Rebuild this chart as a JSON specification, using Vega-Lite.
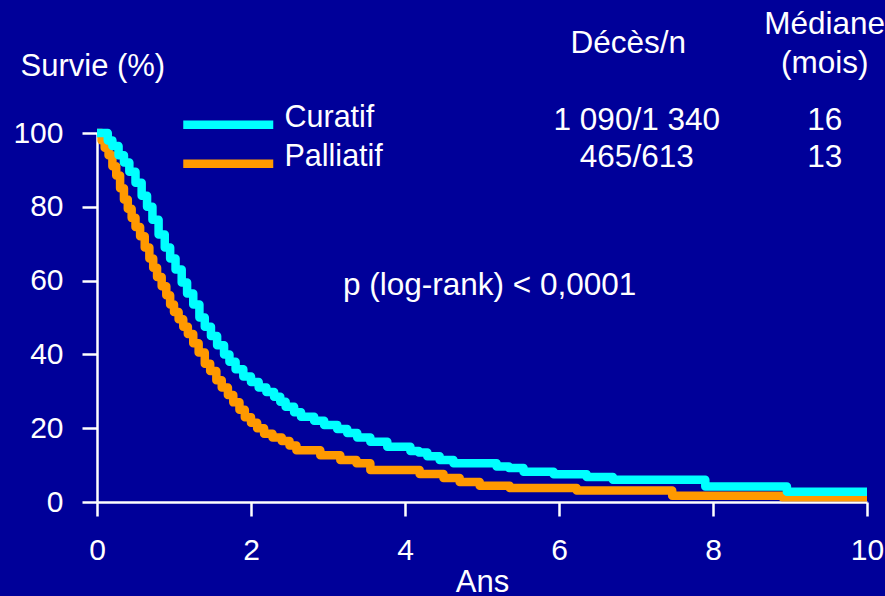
{
  "$schema": "https://vega.github.io/schema/vega-lite/v6.json",
  "width": 770,
  "height": 369,
  "autosize": {"type": "none"},
  "padding": {"left": 97, "top": 133, "right": 18, "bottom": 94},
  "background": "#000099",
  "config": {
    "view": {"stroke": null},
    "font": "Liberation Sans",
    "text": {"fill": "white", "fontSize": 31.5, "align": "center", "baseline": "alphabetic"},
    "axis": {
      "grid": false,
      "labelFlush": false,
      "format": "d",
      "domainColor": "white",
      "domainWidth": 2.5,
      "tickColor": "white",
      "tickWidth": 2.5,
      "labelColor": "white",
      "labelFont": "Liberation Sans",
      "labelFontSize": 30,
      "titleColor": "white",
      "titleFont": "Liberation Sans",
      "titleFontSize": 31,
      "titleFontWeight": "normal"
    },
    "legend": {
      "orient": "none",
      "legendX": 116,
      "legendY": -30,
      "symbolType": "M-4.5,0.65H4.5",
      "symbolSize": 400,
      "symbolStrokeWidth": 8.5,
      "symbolOpacity": 1,
      "labelFontSize": 30.5,
      "labelColor": "white",
      "labelFont": "Liberation Sans",
      "labelOffset": 41,
      "rowPadding": 0,
      "padding": 0
    }
  },
  "datasets": {
    "courbes": [
      {"groupe": "Curatif", "ans": 0, "survie": 100},
      {"groupe": "Curatif", "ans": 0.08, "survie": 100},
      {"groupe": "Curatif", "ans": 0.14, "survie": 98},
      {"groupe": "Curatif", "ans": 0.2, "survie": 96.5},
      {"groupe": "Curatif", "ans": 0.28, "survie": 94},
      {"groupe": "Curatif", "ans": 0.35, "survie": 92},
      {"groupe": "Curatif", "ans": 0.42, "survie": 89.5},
      {"groupe": "Curatif", "ans": 0.5, "survie": 86.5},
      {"groupe": "Curatif", "ans": 0.58, "survie": 83},
      {"groupe": "Curatif", "ans": 0.65, "survie": 80},
      {"groupe": "Curatif", "ans": 0.72, "survie": 76.5},
      {"groupe": "Curatif", "ans": 0.8, "survie": 72.5},
      {"groupe": "Curatif", "ans": 0.88, "survie": 69},
      {"groupe": "Curatif", "ans": 0.95, "survie": 66},
      {"groupe": "Curatif", "ans": 1.02, "survie": 63},
      {"groupe": "Curatif", "ans": 1.1, "survie": 59.5},
      {"groupe": "Curatif", "ans": 1.17, "survie": 56.5},
      {"groupe": "Curatif", "ans": 1.25, "survie": 53.5},
      {"groupe": "Curatif", "ans": 1.33, "survie": 50},
      {"groupe": "Curatif", "ans": 1.4, "survie": 47.5},
      {"groupe": "Curatif", "ans": 1.48, "survie": 45},
      {"groupe": "Curatif", "ans": 1.56, "survie": 42.5},
      {"groupe": "Curatif", "ans": 1.65, "survie": 40},
      {"groupe": "Curatif", "ans": 1.72, "survie": 38},
      {"groupe": "Curatif", "ans": 1.8, "survie": 36},
      {"groupe": "Curatif", "ans": 1.9, "survie": 34},
      {"groupe": "Curatif", "ans": 2.0, "survie": 32.5},
      {"groupe": "Curatif", "ans": 2.1, "survie": 31},
      {"groupe": "Curatif", "ans": 2.2, "survie": 29.8},
      {"groupe": "Curatif", "ans": 2.3, "survie": 28.5},
      {"groupe": "Curatif", "ans": 2.38, "survie": 27.2},
      {"groupe": "Curatif", "ans": 2.45, "survie": 25.8},
      {"groupe": "Curatif", "ans": 2.56, "survie": 24.3},
      {"groupe": "Curatif", "ans": 2.65, "survie": 23.1},
      {"groupe": "Curatif", "ans": 2.82, "survie": 22},
      {"groupe": "Curatif", "ans": 2.95, "survie": 20.9},
      {"groupe": "Curatif", "ans": 3.12, "survie": 19.8},
      {"groupe": "Curatif", "ans": 3.25, "survie": 18.7},
      {"groupe": "Curatif", "ans": 3.38, "survie": 17.5},
      {"groupe": "Curatif", "ans": 3.55, "survie": 16.3},
      {"groupe": "Curatif", "ans": 3.77, "survie": 15},
      {"groupe": "Curatif", "ans": 4.07, "survie": 13.8},
      {"groupe": "Curatif", "ans": 4.18, "survie": 13.4},
      {"groupe": "Curatif", "ans": 4.29, "survie": 12.4},
      {"groupe": "Curatif", "ans": 4.45, "survie": 11.4},
      {"groupe": "Curatif", "ans": 4.63, "survie": 10.5},
      {"groupe": "Curatif", "ans": 5.19, "survie": 9.6},
      {"groupe": "Curatif", "ans": 5.35, "survie": 9.2},
      {"groupe": "Curatif", "ans": 5.54, "survie": 8.2},
      {"groupe": "Curatif", "ans": 5.93, "survie": 7.5},
      {"groupe": "Curatif", "ans": 6.36, "survie": 6.8},
      {"groupe": "Curatif", "ans": 6.7, "survie": 6.0},
      {"groupe": "Curatif", "ans": 7.9, "survie": 4.2},
      {"groupe": "Curatif", "ans": 8.96, "survie": 2.8},
      {"groupe": "Curatif", "ans": 10, "survie": 2.8},
      {"groupe": "Palliatif", "ans": 0, "survie": 100},
      {"groupe": "Palliatif", "ans": 0.04, "survie": 100},
      {"groupe": "Palliatif", "ans": 0.06, "survie": 98},
      {"groupe": "Palliatif", "ans": 0.1, "survie": 96},
      {"groupe": "Palliatif", "ans": 0.15, "survie": 94},
      {"groupe": "Palliatif", "ans": 0.2, "survie": 91},
      {"groupe": "Palliatif", "ans": 0.25, "survie": 88.5},
      {"groupe": "Palliatif", "ans": 0.3, "survie": 85},
      {"groupe": "Palliatif", "ans": 0.35, "survie": 82},
      {"groupe": "Palliatif", "ans": 0.4, "survie": 79.5},
      {"groupe": "Palliatif", "ans": 0.45, "survie": 77},
      {"groupe": "Palliatif", "ans": 0.5, "survie": 74.5},
      {"groupe": "Palliatif", "ans": 0.56, "survie": 72},
      {"groupe": "Palliatif", "ans": 0.62, "survie": 69},
      {"groupe": "Palliatif", "ans": 0.68, "survie": 66},
      {"groupe": "Palliatif", "ans": 0.73, "survie": 63.5},
      {"groupe": "Palliatif", "ans": 0.78, "survie": 61},
      {"groupe": "Palliatif", "ans": 0.84, "survie": 58.5},
      {"groupe": "Palliatif", "ans": 0.9, "survie": 56},
      {"groupe": "Palliatif", "ans": 0.95, "survie": 53.5},
      {"groupe": "Palliatif", "ans": 1.0, "survie": 51.5},
      {"groupe": "Palliatif", "ans": 1.06, "survie": 49.5},
      {"groupe": "Palliatif", "ans": 1.12, "survie": 47.5},
      {"groupe": "Palliatif", "ans": 1.18, "survie": 45.5},
      {"groupe": "Palliatif", "ans": 1.25, "survie": 43},
      {"groupe": "Palliatif", "ans": 1.32, "survie": 40.5},
      {"groupe": "Palliatif", "ans": 1.4, "survie": 37.5},
      {"groupe": "Palliatif", "ans": 1.47, "survie": 35.5},
      {"groupe": "Palliatif", "ans": 1.55, "survie": 33},
      {"groupe": "Palliatif", "ans": 1.62, "survie": 31},
      {"groupe": "Palliatif", "ans": 1.7, "survie": 29},
      {"groupe": "Palliatif", "ans": 1.77, "survie": 27},
      {"groupe": "Palliatif", "ans": 1.85, "survie": 25},
      {"groupe": "Palliatif", "ans": 1.92, "survie": 23},
      {"groupe": "Palliatif", "ans": 2.0, "survie": 21.5},
      {"groupe": "Palliatif", "ans": 2.08, "survie": 20},
      {"groupe": "Palliatif", "ans": 2.17, "survie": 18.5},
      {"groupe": "Palliatif", "ans": 2.28, "survie": 17.5},
      {"groupe": "Palliatif", "ans": 2.4, "survie": 16.5},
      {"groupe": "Palliatif", "ans": 2.5, "survie": 15.3},
      {"groupe": "Palliatif", "ans": 2.59, "survie": 14},
      {"groupe": "Palliatif", "ans": 2.9, "survie": 12.7},
      {"groupe": "Palliatif", "ans": 3.16, "survie": 11.4},
      {"groupe": "Palliatif", "ans": 3.37, "survie": 10.5},
      {"groupe": "Palliatif", "ans": 3.55, "survie": 8.7},
      {"groupe": "Palliatif", "ans": 4.19, "survie": 7.6},
      {"groupe": "Palliatif", "ans": 4.5, "survie": 6.5},
      {"groupe": "Palliatif", "ans": 4.71, "survie": 5.4},
      {"groupe": "Palliatif", "ans": 4.97, "survie": 4.4},
      {"groupe": "Palliatif", "ans": 5.36, "survie": 3.8},
      {"groupe": "Palliatif", "ans": 6.23, "survie": 3.1},
      {"groupe": "Palliatif", "ans": 7.47, "survie": 1.7},
      {"groupe": "Palliatif", "ans": 8.9, "survie": 1.3},
      {"groupe": "Palliatif", "ans": 10, "survie": 1.3}
    ]
  },
  "layer": [
    {
      "data": {"name": "courbes"},
      "transform": [{"filter": "datum.groupe === 'Palliatif'"}],
      "mark": {"type": "line", "interpolate": "step-after", "strokeWidth": 8.5, "strokeJoin": "round", "clip": false},
      "encoding": {
        "x": {"field": "ans", "type": "quantitative", "scale": {"domain": [0, 10], "nice": false},
          "axis": {"values": [0, 2, 4, 6, 8, 10], "tickSize": 14, "labelPadding": 19, "title": "Ans", "titlePadding": 2}},
        "y": {"field": "survie", "type": "quantitative", "scale": {"domain": [0, 100], "nice": false},
          "axis": {"values": [0, 20, 40, 60, 80, 100], "tickSize": 15, "labelPadding": 19, "title": "Survie (%)", "titleAngle": 0, "titleAlign": "left", "titleBaseline": "alphabetic", "titleX": -77, "titleY": -58}},
        "color": {"field": "groupe", "type": "nominal", "scale": {"domain": ["Curatif", "Palliatif"], "range": ["#00FFFF", "#FF9900"]}, "legend": {"title": null}}
      }
    },
    {
      "data": {"name": "courbes"},
      "transform": [{"filter": "datum.groupe === 'Curatif'"}],
      "mark": {"type": "line", "interpolate": "step-after", "strokeWidth": 8.5, "strokeJoin": "round", "clip": false},
      "encoding": {
        "x": {"field": "ans", "type": "quantitative", "scale": {"domain": [0, 10], "nice": false},
          "axis": {"values": [0, 2, 4, 6, 8, 10], "tickSize": 14, "labelPadding": 19, "title": "Ans", "titlePadding": 2}},
        "y": {"field": "survie", "type": "quantitative", "scale": {"domain": [0, 100], "nice": false},
          "axis": {"values": [0, 20, 40, 60, 80, 100], "tickSize": 15, "labelPadding": 19, "title": "Survie (%)", "titleAngle": 0, "titleAlign": "left", "titleBaseline": "alphabetic", "titleX": -77, "titleY": -58}},
        "color": {"field": "groupe", "type": "nominal", "scale": {"domain": ["Curatif", "Palliatif"], "range": ["#00FFFF", "#FF9900"]}, "legend": {"title": null}}
      }
    },
    {
      "data": {"values": [{"t": "Décès/n"}]},
      "mark": {"type": "text"},
      "encoding": {"x": {"datum": 6.9, "type": "quantitative"}, "y": {"datum": 121.7, "type": "quantitative"}, "text": {"field": "t", "type": "nominal"}}
    },
    {
      "data": {"values": [{"t": "Médiane"}]},
      "mark": {"type": "text"},
      "encoding": {"x": {"datum": 9.45, "type": "quantitative"}, "y": {"datum": 126.8, "type": "quantitative"}, "text": {"field": "t", "type": "nominal"}}
    },
    {
      "data": {"values": [{"t": "(mois)"}]},
      "mark": {"type": "text"},
      "encoding": {"x": {"datum": 9.45, "type": "quantitative"}, "y": {"datum": 116.3, "type": "quantitative"}, "text": {"field": "t", "type": "nominal"}}
    },
    {
      "data": {"values": [{"t": "1 090/1 340"}]},
      "mark": {"type": "text"},
      "encoding": {"x": {"datum": 7.01, "type": "quantitative"}, "y": {"datum": 100.8, "type": "quantitative"}, "text": {"field": "t", "type": "nominal"}}
    },
    {
      "data": {"values": [{"t": "465/613"}]},
      "mark": {"type": "text"},
      "encoding": {"x": {"datum": 7.01, "type": "quantitative"}, "y": {"datum": 90.8, "type": "quantitative"}, "text": {"field": "t", "type": "nominal"}}
    },
    {
      "data": {"values": [{"t": "16"}]},
      "mark": {"type": "text"},
      "encoding": {"x": {"datum": 9.45, "type": "quantitative"}, "y": {"datum": 100.8, "type": "quantitative"}, "text": {"field": "t", "type": "nominal"}}
    },
    {
      "data": {"values": [{"t": "13"}]},
      "mark": {"type": "text"},
      "encoding": {"x": {"datum": 9.45, "type": "quantitative"}, "y": {"datum": 90.8, "type": "quantitative"}, "text": {"field": "t", "type": "nominal"}}
    },
    {
      "data": {"values": [{"t": "p (log-rank) < 0,0001"}]},
      "mark": {"type": "text"},
      "encoding": {"x": {"datum": 5.1, "type": "quantitative"}, "y": {"datum": 56.1, "type": "quantitative"}, "text": {"field": "t", "type": "nominal"}}
    }
  ]
}
